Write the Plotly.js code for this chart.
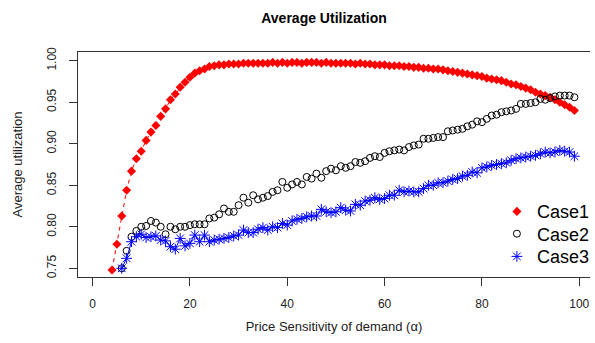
<!DOCTYPE html>
<html>
<head>
<meta charset="utf-8">
<script src="https://cdn.plot.ly/plotly-3.0.1.min.js"></script>
<style>html,body{margin:0;padding:0;overflow:hidden;background:#fff}</style>
</head>
<body>
<div id="chart" style="width:595px;height:343px"></div>
<script>
// alpha values (price sensitivity) for Case1; Case2 and Case3 start at 6
const alpha = [4,5,6,7,8,9,10,11,12,13,14,15,16,17,18,19,20,21,22,23,24,25,26,27,28,29,30,31,32,33,34,35,36,37,38,39,40,41,42,43,44,45,46,47,48,49,50,51,52,53,54,55,56,57,58,59,60,61,62,63,64,65,66,67,68,69,70,71,72,73,74,75,76,77,78,79,80,81,82,83,84,85,86,87,88,89,90,91,92,93,94,95,96,97,98,99];
const alpha23 = alpha.slice(2);

const case1 = [0.748,0.779,0.813,0.844,0.867,0.882,0.891,0.904,0.914,0.922,0.933,0.942,0.953,0.960,0.968,0.974,0.980,0.985,0.988,0.990,0.993,0.994,0.995,0.995,0.996,0.996,0.996,0.997,0.997,0.997,0.997,0.997,0.997,0.998,0.997,0.998,0.997,0.998,0.998,0.997,0.998,0.998,0.998,0.997,0.998,0.997,0.997,0.997,0.997,0.997,0.996,0.997,0.996,0.996,0.995,0.995,0.995,0.994,0.994,0.994,0.993,0.993,0.992,0.992,0.991,0.991,0.990,0.990,0.989,0.988,0.987,0.986,0.985,0.984,0.983,0.982,0.981,0.979,0.978,0.977,0.976,0.974,0.972,0.971,0.969,0.967,0.965,0.962,0.960,0.958,0.956,0.953,0.950,0.947,0.944,0.940];

const case2 = [0.750,0.771,0.788,0.795,0.800,0.801,0.807,0.805,0.800,0.791,0.800,0.797,0.800,0.800,0.802,0.803,0.803,0.803,0.810,0.811,0.815,0.822,0.818,0.818,0.826,0.835,0.829,0.838,0.833,0.835,0.837,0.842,0.844,0.854,0.847,0.851,0.854,0.851,0.860,0.858,0.864,0.859,0.867,0.870,0.868,0.873,0.871,0.873,0.878,0.877,0.879,0.883,0.885,0.884,0.889,0.891,0.892,0.893,0.892,0.896,0.898,0.899,0.906,0.906,0.907,0.908,0.908,0.915,0.916,0.917,0.918,0.921,0.923,0.927,0.926,0.930,0.934,0.935,0.938,0.939,0.940,0.942,0.948,0.948,0.949,0.950,0.954,0.953,0.955,0.957,0.958,0.958,0.958,0.956];

const case3 = [0.750,0.762,0.782,0.788,0.791,0.787,0.788,0.789,0.784,0.783,0.776,0.773,0.786,0.777,0.780,0.790,0.782,0.790,0.782,0.784,0.785,0.786,0.787,0.789,0.790,0.796,0.793,0.793,0.797,0.799,0.796,0.800,0.799,0.804,0.802,0.807,0.809,0.810,0.812,0.813,0.813,0.821,0.818,0.817,0.818,0.823,0.820,0.819,0.827,0.826,0.831,0.832,0.835,0.833,0.834,0.838,0.838,0.844,0.842,0.843,0.842,0.842,0.846,0.850,0.850,0.853,0.853,0.855,0.857,0.858,0.861,0.862,0.866,0.865,0.871,0.872,0.874,0.875,0.876,0.877,0.880,0.882,0.883,0.884,0.885,0.886,0.888,0.890,0.889,0.890,0.892,0.891,0.890,0.885];

const seriesNames = ["Case1", "Case2", "Case3"];
const xTicks = [0, 20, 40, 60, 80, 100];
const yTicks = [0.75, 0.80, 0.85, 0.90, 0.95, 1.00];

const FONT = "Liberation Sans, Arial, sans-serif";

const traces = [
  {x: alpha, y: case1, type: "scatter", mode: "lines", showlegend: false, hoverinfo: "skip",
   line: {color: "#FF0000", width: 1, dash: "4px,4px"}},
  {x: alpha, y: case1, type: "scatter", mode: "markers", name: seriesNames[0], legend: "legend",
   marker: {symbol: "diamond", size: 7, color: "#FF0000"}},
  {x: alpha23, y: case2, type: "scatter", mode: "markers", name: seriesNames[1], legend: "legend2",
   marker: {symbol: "circle-open", size: 7, color: "#000000", line: {width: 1}}},
  {x: alpha23, y: case3, type: "scatter", mode: "lines", showlegend: false, hoverinfo: "skip",
   line: {color: "#0000FF", width: 1}},
  {x: alpha23, y: case3, type: "scatter", mode: "markers", name: seriesNames[2], legend: "legend3",
   marker: {symbol: "asterisk-open", size: 9, color: "#0000FF", line: {width: 1, color: "#0000FF"}}}
];

function leg(centerPx) {
  return {x: (501-78)/517, xanchor: "left", y: (277-centerPx)/225, yanchor: "middle",
          bgcolor: "rgba(0,0,0,0)", font: {family: FONT, size: 18, color: "#000"},
          itemwidth: 30};
}

const layout = {
  width: 595, height: 343,
  margin: {l: 78, r: 0, t: 52, b: 66},
  paper_bgcolor: "#fff", plot_bgcolor: "#fff",
  font: {family: FONT, size: 12, color: "#000"},
  title: {text: "<b>Average Utilization</b>", font: {family: FONT, size: 14, color: "#000"},
          x: 324/595, xref: "container", xanchor: "center", y: 1 - 18/343, yref: "container", yanchor: "middle"},
  xaxis: {
    range: [-2.99, 102.2], tickvals: xTicks, ticktext: xTicks.map(String),
    ticks: "outside", ticklen: 8, tickwidth: 1, tickcolor: "#333",
    showline: true, linecolor: "#333", linewidth: 1, mirror: true,
    showgrid: false, zeroline: false, ticklabelstandoff: 8,
    tickfont: {family: FONT, size: 12, color: "#222"},
    title: {text: "Price Sensitivity of demand (α)", font: {family: FONT, size: 13, color: "#222"}, standoff: 11}
  },
  yaxis: {
    range: [0.7395, 1.0105], tickvals: yTicks, ticktext: yTicks.map(v => v.toFixed(2)),
    ticks: "outside", ticklen: 8, tickwidth: 1, tickcolor: "#333", tickangle: -90,
    showline: true, linecolor: "#333", linewidth: 1, mirror: false,
    showgrid: false, zeroline: false, ticklabelstandoff: 8,
    tickfont: {family: FONT, size: 12, color: "#222"},
    title: {text: "Average utilization", font: {family: FONT, size: 13, color: "#222"}, standoff: 19}
  },
  legend: leg(211.7),
  legend2: leg(234),
  legend3: leg(256.7),
  showlegend: true
};

Plotly.newPlot("chart", traces, layout, {displayModeBar: false, staticPlot: true});
</script>
</body>
</html>
